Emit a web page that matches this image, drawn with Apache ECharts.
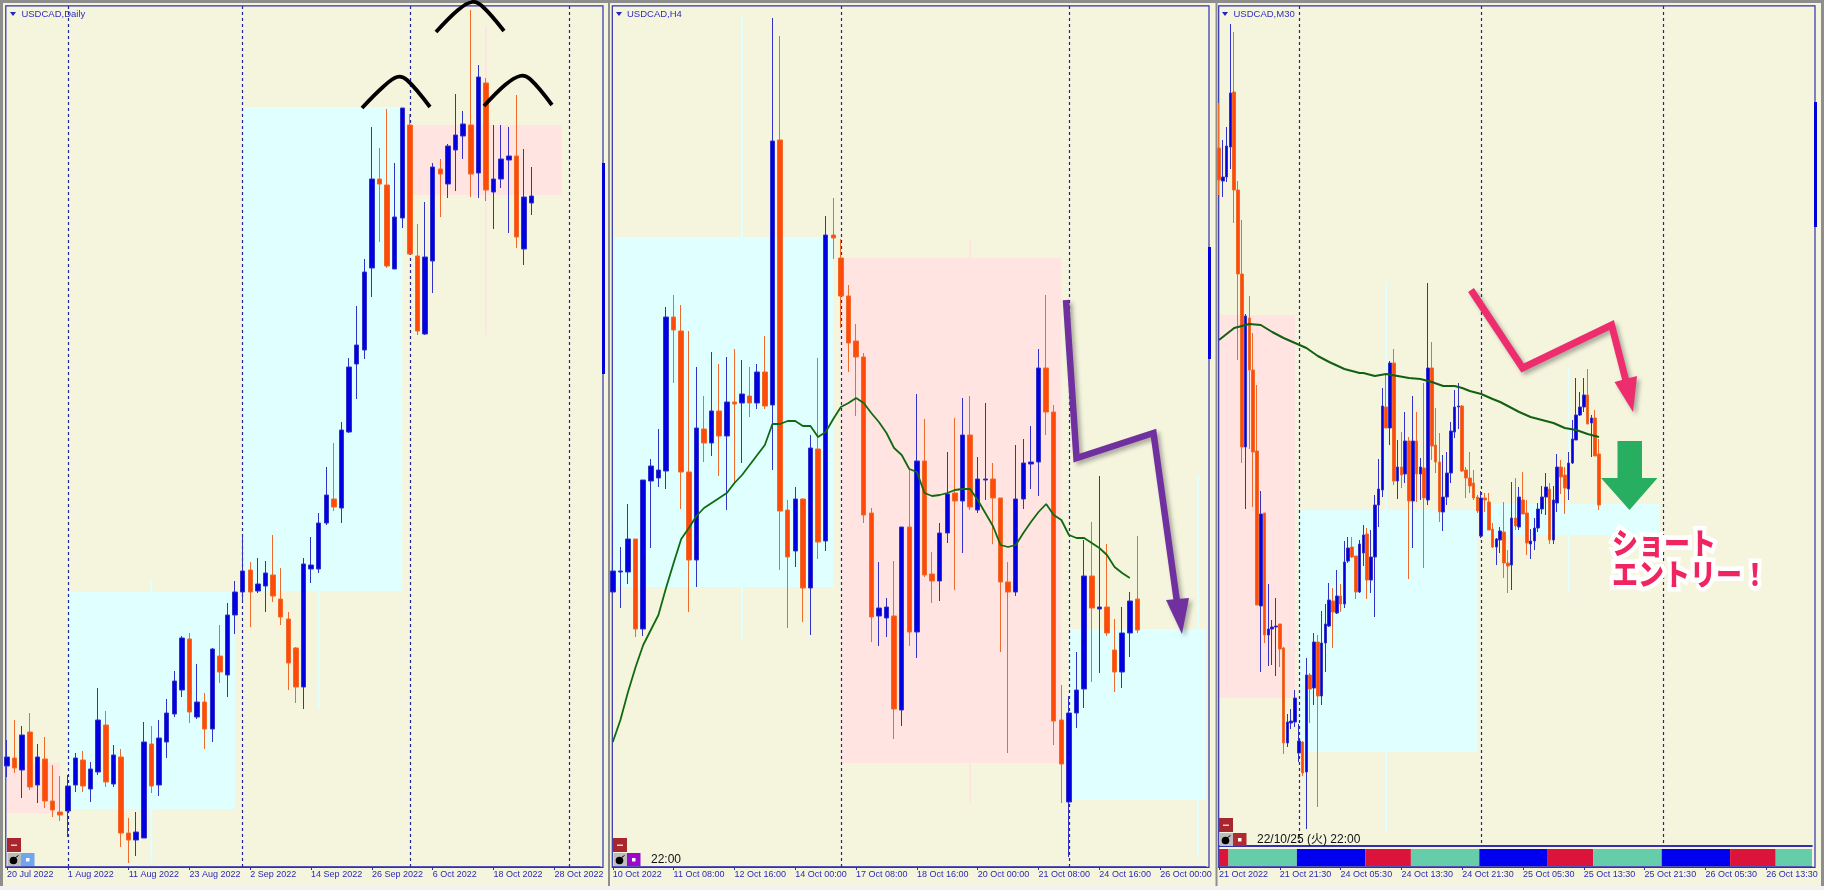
<!DOCTYPE html>
<html><head><meta charset="utf-8"><style>html,body{margin:0;padding:0;background:#F5F4DD}#c{width:1824px;height:890px}</style>
<script src="https://cdn.jsdelivr.net/npm/echarts@6/dist/echarts.min.js"></script></head>
<body><div id="c"></div>
<script>
// Tick labels
const dailyTicks=['20 Jul 2022','1 Aug 2022','11 Aug 2022','23 Aug 2022','2 Sep 2022','14 Sep 2022','26 Sep 2022','6 Oct 2022','18 Oct 2022','28 Oct 2022'];
const h4Ticks=['10 Oct 2022','11 Oct 08:00','12 Oct 16:00','14 Oct 00:00','17 Oct 08:00','18 Oct 16:00','20 Oct 00:00','21 Oct 08:00','24 Oct 16:00','26 Oct 00:00'];
const m30Ticks=['21 Oct 2022','21 Oct 21:30','24 Oct 05:30','24 Oct 13:30','24 Oct 21:30','25 Oct 05:30','25 Oct 13:30','25 Oct 21:30','26 Oct 05:30','26 Oct 13:30'];
// Candles: [open, close, low, high] in chart points
const dailyOHLC=[[124,133,113,150],[132,122,117,170],[120,155,92,164],[158,103,100,177],[105,133,87,146],[131,89,82,153],[89,80,73,125],[78,75,69,114],[79,104,53,115],[105,132,98,137],[130,104,98,139],[101,121,88,128],[118,170,115,202],[165,108,103,179],[106,135,103,145],[133,57,43,141],[57,50,27,72],[50,58,34,78],[52,148,52,168],[146,104,97,164],[105,152,94,170],[148,177,132,191],[176,209,173,219],[200,252,193,254],[251,178,167,257],[173,188,171,226],[188,161,141,197],[161,241,148,242],[234,218,207,265],[215,275,193,287],[275,298,256,309],[298,319,289,355],[320,298,263,328],[299,306,297,332],[304,317,278,329],[315,294,288,355],[291,273,265,322],[271,227,200,278],[242,203,187,243],[203,326,181,332],[321,325,307,353],[321,367,317,377],[367,395,365,423],[391,383,379,447],[382,460,367,468],[458,523,457,532],[526,545,491,584],[540,618,531,631],[622,711,593,763],[711,706,648,742],[705,624,622,781],[621,673,621,727],[672,782,662,782],[765,636,635,776],[634,559,555,666],[556,633,555,688],[629,723,597,727],[721,716,673,731],[706,744,692,746],[740,755,699,796],[754,766,731,779],[765,716,693,880],[717,813,692,825],[807,700,689,812],[698,711,661,765],[711,731,702,765],[730,734,657,763],[734,653,642,795],[641,693,625,741],[687,694,675,723]];
const h4OHLC=[[298,319,298,369],[318,319,282,343],[318,351,306,386],[351,261,253,351],[261,410,254,410],[409,424,342,431],[412,420,403,461],[419,573,401,583],[573,560,507,595],[559,418,381,585],[418,330,278,559],[330,462,303,523],[461,447,428,494],[447,479,434,538],[479,454,414,526],[454,488,380,533],[488,486,408,541],[487,496,427,530],[494,487,473,523],[487,518,481,526],[518,484,481,554],[485,749,420,872],[750,379,320,854],[380,333,262,390],[339,391,323,403],[391,302,268,392],[302,442,255,455],[441,348,331,532],[349,655,339,674],[655,652,631,692],[632,594,562,651],[594,547,518,605],[549,533,474,566],[533,375,367,537],[377,273,248,382],[274,282,244,328],[272,283,253,292],[274,181,151,329],[180,363,164,363],[363,258,244,420],[258,429,232,496],[429,315,313,471],[316,309,287,338],[309,357,289,367],[357,396,347,438],[397,389,300,472],[389,455,337,492],[455,383,380,494],[380,411,377,433],[410,411,390,487],[411,392,346,427],[392,308,238,392],[308,298,137,328],[298,391,294,445],[391,427,381,451],[426,428,401,464],[428,522,394,541],[522,478,455,595],[478,169,145,485],[170,126,87,205],[88,177,33,194],[177,200,162,238],[201,314,182,350],[314,282,208,368],[281,283,217,414],[283,257,254,346],[240,218,198,271],[218,257,202,283],[257,289,233,298],[291,260,257,354]];
const m30OHLC=[[742,710,695,787],[709,713,693,750],[713,744,708,763],[743,797,721,866],[798,700,667,858],[700,616,530,709],[616,443,427,670],[443,574,381,576],[572,520,441,594],[520,438,383,557],[439,285,285,505],[284,376,218,399],[377,255,247,377],[255,261,224,306],[261,263,225,270],[263,264,214,292],[266,241,223,266],[242,147,136,243],[147,168,143,176],[167,169,161,181],[168,192,163,200],[137,149,128,166],[148,117,114,149],[118,215,61,232],[215,201,167,217],[202,248,185,257],[248,194,83,255],[194,247,185,279],[247,266,218,286],[264,290,263,307],[289,278,242,302],[277,294,276,320],[294,286,278,306],[286,328,282,349],[329,342,327,353],[343,333,332,353],[334,298,291,334],[298,346,297,350],[337,355,324,365],[356,310,291,362],[310,333,297,360],[333,385,273,395],[385,401,363,431],[400,484,393,502],[483,462,462,515],[462,527,445,529],[527,409,405,541],[409,423,391,450],[423,415,402,458],[416,449,407,478],[449,389,311,453],[389,449,342,494],[449,416,388,478],[416,423,390,432],[422,392,322,507],[390,522,385,607],[522,444,430,548],[445,428,417,482],[428,378,368,457],[378,393,359,435],[393,417,385,438],[417,459,407,468],[458,483,452,500],[483,484,461,507],[484,419,418,485],[420,412,392,423],[412,404,397,438],[407,392,390,420],[393,379,377,395],[354,392,352,399],[392,390,378,397],[388,360,360,397],[361,343,342,367],[343,351,325,352],[350,359,337,363],[358,327,312,388],[327,324,297,340],[325,372,300,408],[372,364,360,412],[363,393,360,403],[390,376,376,418],[377,347,335,390],[346,349,331,361],[349,362,340,372],[362,381,358,387],[381,393,376,404],[393,403,375,417],[401,350,346,407],[350,390,346,404],[387,423,378,436],[423,413,396,430],[415,402,376,423],[401,427,390,438],[427,451,426,470],[450,475,450,512],[475,483,474,498],[483,495,478,512],[495,466,466,521],[467,472,433,475],[472,434,434,480],[436,385,380,451]];
// Moving averages
const h4MA=[148,170,198,223,245,260,275,302,327,351,362,374,382,387,392,397,407,415,425,435,445,466,466,469,469,464,464,453,458,471,483,487,492,487,477,468,457,442,435,421,418,397,394,395,397,400,401,401,390,377,364,345,343,345,357,368,378,386,375,370,355,352,352,347,342,335,323,317,312];
const m30MAIndex=[0,4,6,8,11,14,17,20,23,26,29,33,37,38,41,44,47,50,53,56,59,62,64,66,69,72,74,79,82,85,88,91,94,97,100];
const m30MA=[550,562,564,566,565,558,552,547,542,534,528,521,517,517,514,516,514,512,511,508,504,504,502,499,496,491,488,478,473,470,467,462,460,456,453];
// Higher-timeframe candles shown as shaded boxes: [firstBar, lastBar, top, bottom, wickBar, wickHigh, wickLow, kind]
const dailyBoxes=[[0,7,127,77,3,127,77,'down'],[8,30,298,81,19,310,27,'up'],[31,52,783,299,41,783,182,'up'],[53,73,765,695,63,863,555,'down']];
const h4Boxes=[[0,29,653,303,17,873,252,'up'],[30,59,632,127,47,650,87,'down'],[60,78,261,90,77,415,33,'up']];
const m30Boxes=[[0,20,575,192,10,575,192,'down'],[21,68,380,138,44,608,58,'up'],[69,116,386,355,92,522,297,'up']];
// Day separators (bar index)
const dailySeps=[8,31,53,74], h4Seps=[30,60], m30Seps=[21,69,117];
// Session bands of the M30 sub-window
const sessionStart=[0,3,21,39,51,69,87,99,117,135,147];
const sessionEnd=[2,20,38,50,68,86,98,116,134,146,156];
const sessionKind=['red','green','blue','red','green','blue','red','green','blue','red','green'];

const SC={red:'#DC143C',green:'#66CDAA',blue:'#0000F0'};
const BOX={up:'#E0FFFF',down:'#FFE4E1'};
const UP='#0000E0',DN='#FF4A0A',UPW='#3232C8',DNW='#F06A2A',AX='#3030B0';
const FONT='"Liberation Sans",Arial,sans-serif';
const cats=(n,step,labels)=>Array.from({length:n},(_,i)=>i%step===0&&labels[i/step]!==undefined?labels[i/step]:'');

const grids=[{left:7,top:6,width:593,height:861},{left:612.8,top:6,width:593,height:861},{left:1219,top:6,width:592.8,height:840},{left:1219,top:848,width:592.8,height:19}];
function xAx(gi,n,step,labels,seps,showLabels){return {type:'category',gridIndex:gi,boundaryGap:false,z:1,data:cats(n,step,labels),
  axisLine:{show:true,lineStyle:{color:AX,width:gi===2?2:1.5}},
  axisTick:{show:showLabels,interval:step-1,length:3,lineStyle:{color:AX}},
  axisLabel:{show:showLabels,interval:step-1,align:'left',margin:3,fontSize:9,color:'#2A2AB8',fontFamily:FONT,hideOverlap:false},
  splitLine:{show:!!seps.length,interval:i=>seps.includes(i),lineStyle:{color:'#24249C',type:[3,3],width:1.2}}};}
function yAx(gi,min,max){return {type:'value',gridIndex:gi,min,max,show:false,scale:false,splitLine:{show:false}};}
function candles(i,data,w){return {type:'candlestick',xAxisIndex:i,yAxisIndex:i,data,barWidth:w,z:3,silent:true,
  itemStyle:{color:UP,color0:DN,borderColor:UPW,borderColor0:DNW,borderWidth:1}};}
function boxes(i,data){return {type:'custom',xAxisIndex:i,yAxisIndex:i,z:0,silent:true,clip:true,data:data.map(d=>d.slice(0,7)),
  encode:{x:[0,1,4],y:[2,3,5,6]},
  renderItem(p,api){const k=data[p.dataIndex][7],c=BOX[k];
    const a=api.coord([api.value(0),api.value(2)]),b=api.coord([api.value(1),api.value(3)]);
    const w1=api.coord([api.value(4),api.value(5)]),w2=api.coord([api.value(4),api.value(6)]);
    return {type:'group',children:[
      {type:'rect',shape:{x:a[0],y:a[1],width:b[0]-a[0],height:b[1]-a[1]},style:{fill:c}},
      {type:'rect',shape:{x:w1[0]-1,y:w1[1],width:2,height:w2[1]-w1[1]},style:{fill:c}}]};}};}

const bgEls=[];
const add=(e)=>{bgEls.push(e);return e;};
// page chrome
[[0,0,1824,3],[0,0,3,886],[1821,0,3,886],[608,3,2,883],[1215.5,3,2,883]].forEach(r=>add({type:'rect',z:-10,silent:true,shape:{x:r[0],y:r[1],width:r[2],height:r[3]},style:{fill:'#8E8E8E'}}));
add({type:'rect',z:-10,silent:true,shape:{x:0,y:886,width:1824,height:4},style:{fill:'#F2F2F2'}});
// panel frames
[[5.8,5.8,597.2,861.5],[612.3,5.8,596.7,861.5],[1218.7,5.8,596.3,861.5]].forEach(r=>add({type:'rect',z:1,silent:true,shape:{x:r[0],y:r[1],width:r[2],height:r[3]},style:{fill:'none',stroke:AX,lineWidth:1.2}}));
// right-edge marks
[[602,163,374],[1208,247,359],[1814,102,227]].forEach(r=>add({type:'rect',z:6,silent:true,shape:{x:r[0],y:r[1],width:3,height:r[2]-r[1]},style:{fill:'#0000D8'}}));
// title triangles
[13,619,1225].forEach(x=>add({type:'polygon',z:6,silent:true,shape:{points:[[x-3,12],[x+3,12],[x,16]]},style:{fill:'#2222C0'}}));
// platform buttons
function btns(x,yRed,yRow,col){
  add({type:'rect',z:6,silent:true,shape:{x,y:yRed,width:14,height:14},style:{fill:'#A8262E'}});
  add({type:'rect',z:7,silent:true,shape:{x:x+4,y:yRed+6.5,width:6,height:1.5},style:{fill:'#F3C8C8'}});
  add({type:'rect',z:6,silent:true,shape:{x:x+.5,y:yRow,width:13.5,height:13},style:{fill:'#BDBDBD'}});
  add({type:'circle',z:7,silent:true,shape:{cx:x+6.5,cy:yRow+7.5,r:3.8},style:{fill:'#000'}});
  add({type:'line',z:7,silent:true,shape:{x1:x+8.5,y1:yRow+4.5,x2:x+11.5,y2:yRow+2.5},style:{stroke:'#000',lineWidth:1}});
  add({type:'rect',z:6,silent:true,shape:{x:x+14,y:yRow,width:13.5,height:13},style:{fill:col}});
  add({type:'rect',z:7,silent:true,shape:{x:x+19,y:yRow+5,width:3.5,height:3.5},style:{fill:'#fff'}});
}
btns(7,838,853,'#6FA6EE');btns(613,838,853,'#9A08CC');btns(1219,818,833,'#B02A30');
add({type:'text',z:8,silent:true,style:{x:651,y:860,text:'22:00',fill:'#111',font:'12px '+FONT,verticalAlign:'middle'}});
add({type:'text',z:8,silent:true,style:{x:1257,y:840,text:'22/10/25 (火) 22:00',fill:'#111',font:'12px "Liberation Sans","Noto Sans CJK JP",sans-serif',verticalAlign:'middle'}});
// head-and-shoulders arcs
[[[362,108],[383,87],[397,77],[407,80],[430,107]],[[436,32],[458,10],[472,2],[482,6],[504,31]],[[484,106],[505,85],[520,76],[530,79],[552,105]]].forEach(p=>
  add({type:'polyline',z:10,silent:true,shape:{points:p,smooth:.35},style:{stroke:'#000',lineWidth:3.8,fill:'none',lineCap:'butt'}}));
// drawn arrows
const shadow={shadowBlur:4,shadowOffsetX:3,shadowOffsetY:3,shadowColor:'rgba(60,60,60,.4)'};
add({type:'polyline',z:10,silent:true,shape:{points:[[1066,300],[1076.5,458],[1153.5,433],[1177,602]]},style:{stroke:'#7030A0',lineWidth:6.5,fill:'none',lineJoin:'miter',...shadow}});
add({type:'polygon',z:10,silent:true,shape:{points:[[1166,600],[1189,598],[1182,634]]},style:{fill:'#7030A0',...shadow}});
add({type:'polyline',z:10,silent:true,shape:{points:[[1471,290],[1522.6,368],[1611.6,325],[1626,381]]},style:{stroke:'#EE2D6E',lineWidth:7,fill:'none',lineJoin:'miter',...shadow}});
add({type:'polygon',z:10,silent:true,shape:{points:[[1614.5,382],[1637,376],[1633,412]]},style:{fill:'#EE2D6E',...shadow}});
add({type:'polygon',z:10,silent:true,shape:{points:[[1617.5,441],[1642,441],[1642,478],[1657.5,478],[1629.5,510],[1601,478],[1617.5,478]]},style:{fill:'#27AE60'}});
[['ショート',543],['エントリー！',574]].forEach(t=>add({type:'text',z:12,silent:true,x:1612,y:t[1],scaleY:1.15,originY:0,
  style:{x:0,y:0,text:t[0],fill:'#F0245F',stroke:'#fff',lineWidth:8,font:'900 26px "Noto Sans CJK JP",sans-serif',verticalAlign:'middle',shadowBlur:5,shadowOffsetX:2,shadowOffsetY:2,shadowColor:'rgba(0,0,0,.35)'}}));

const option={
  backgroundColor:'#F5F4DD',animation:false,
  title:[['USDCAD,Daily',21.4],['USDCAD,H4',627],['USDCAD,M30',1233.5]].map(t=>({text:t[0],left:t[1],top:9,padding:0,textStyle:{fontSize:9.5,fontWeight:'normal',color:'#2E2EC0',fontFamily:FONT}})),
  grid:grids,
  xAxis:[xAx(0,79,8,dailyTicks,dailySeps,true),xAx(1,79,8,h4Ticks,h4Seps,true),xAx(2,157,16,m30Ticks,m30Seps,false),xAx(3,157,16,m30Ticks,[],true)],
  yAxis:[yAx(0,23,884),yAx(1,23,884),yAx(2,44,884),yAx(3,0,1)],
  graphic:{elements:bgEls},
  series:[
    boxes(0,dailyBoxes),candles(0,dailyOHLC,5),
    boxes(1,h4Boxes),candles(1,h4OHLC,5),
    {type:'line',xAxisIndex:1,yAxisIndex:1,data:h4MA,showSymbol:false,silent:true,z:4,lineStyle:{color:'#0F6B0F',width:1.8}},
    boxes(2,m30Boxes),candles(2,m30OHLC,3),
    {type:'line',xAxisIndex:2,yAxisIndex:2,data:m30MAIndex.map((x,i)=>[x,m30MA[i]]),showSymbol:false,silent:true,z:4,lineStyle:{color:'#126012',width:2}},
    {type:'custom',xAxisIndex:3,yAxisIndex:3,silent:true,clip:true,z:2,data:sessionStart.map((s,i)=>[s,sessionEnd[i]]),encode:{x:[0,1]},
     renderItem(p,api){const band=api.coord([1,0])[0]-api.coord([0,0])[0];
       const a=api.coord([api.value(0),1]),b=api.coord([api.value(1),0]);
       return {type:'rect',shape:{x:a[0]-band/2,y:a[1]+1,width:b[0]-a[0]+band,height:b[1]-a[1]-2},style:{fill:SC[sessionKind[p.dataIndex]]}};}}
  ]
};
echarts.init(document.getElementById('c')).setOption(option);
</script></body></html>
